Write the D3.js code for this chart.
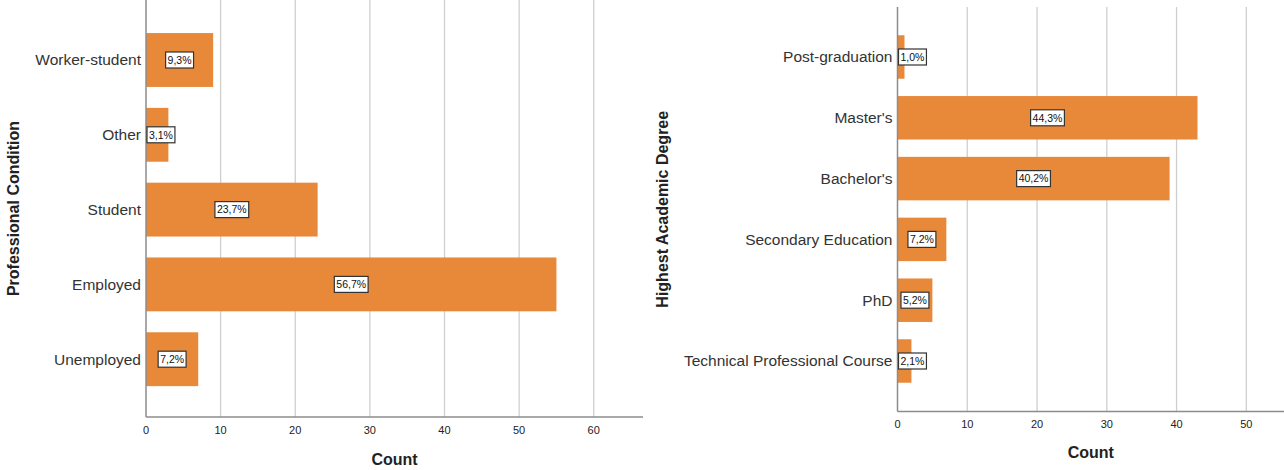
<!DOCTYPE html>
<html>
<head>
<meta charset="utf-8">
<script src="https://cdn.jsdelivr.net/npm/d3@7"></script>
<style>
  body { margin: 0; background: #fff; }
  svg { display: block; }
</style>
</head>
<body>
<div id="chart"></div>
<script>
// left chart data
const conditionCategories = ["Worker-student", "Other", "Student", "Employed", "Unemployed"];
const conditionCounts = [9, 3, 23, 55, 7];
// right chart data
const degreeCategories = ["Post-graduation", "Master's", "Bachelor's", "Secondary Education", "PhD", "Technical Professional Course"];
const degreeCounts = [1, 43, 39, 7, 5, 2];
const countTicks = [0, 10, 20, 30, 40, 50, 60];

const W = 1284, H = 470;
const barColor = "#e8893a";
const font = "'Liberation Sans', Arial, sans-serif";

const svg = d3.select("#chart").append("svg")
  .attr("width", W).attr("height", H);

const fmtPct = v => d3.format(".1f")(v).replace(".", ",") + "%";

function drawChart(cfg) {
  const { cats, counts, x0, x1, top, bottom, bandTop, bandBottom, pad, xMax, title, titleX, tickY, countY } = cfg;
  const total = d3.sum(counts);

  const x = d3.scaleLinear().domain([0, xMax]).range([x0, x1]);
  const y = d3.scaleBand().domain(cats).range([bandTop, bandBottom])
    .paddingInner(pad).paddingOuter(pad / 2);

  const g = svg.append("g");
  const ticks = countTicks.filter(t => t <= xMax);

  // gridlines
  g.selectAll("line.grid")
    .data(ticks.filter(t => t > 0))
    .join("line")
    .attr("x1", d => x(d)).attr("x2", d => x(d))
    .attr("y1", top).attr("y2", bottom)
    .attr("stroke", "#cfcfcf").attr("stroke-width", 1.3);

  // bars
  g.selectAll("rect.bar")
    .data(cats)
    .join("rect")
    .attr("x", x(0))
    .attr("y", d => y(d))
    .attr("width", (d, i) => x(counts[i]) - x(0))
    .attr("height", y.bandwidth())
    .attr("fill", barColor);

  // axes lines
  g.append("line")
    .attr("x1", x0).attr("x2", x0).attr("y1", top).attr("y2", bottom)
    .attr("stroke", "#8c8c8c").attr("stroke-width", 1.5);
  g.append("line")
    .attr("x1", x0).attr("x2", x1).attr("y1", bottom).attr("y2", bottom)
    .attr("stroke", "#8c8c8c").attr("stroke-width", 1.5);

  // tick labels
  g.selectAll("text.tick")
    .data(ticks)
    .join("text")
    .attr("x", d => x(d))
    .attr("y", tickY)
    .attr("dy", "0.35em")
    .attr("text-anchor", "middle")
    .style("font-family", font)
    .style("font-size", "11px")
    .style("fill", "#222")
    .text(d => d);

  // category labels
  g.selectAll("text.cat")
    .data(cats)
    .join("text")
    .attr("x", x0 - 5)
    .attr("y", d => y(d) + y.bandwidth() / 2)
    .attr("dy", "0.35em")
    .attr("text-anchor", "end")
    .style("font-family", font)
    .style("font-size", "15.5px")
    .style("fill", "#333")
    .text(d => d);

  // value labels in boxes
  cats.forEach((c, i) => {
    const label = fmtPct(counts[i] / total * 100);
    const cy = y(c) + y.bandwidth() / 2;
    const t = g.append("text")
      .attr("y", cy)
      .attr("dy", "0.36em")
      .attr("text-anchor", "middle")
      .style("font-family", font)
      .style("font-size", "10.5px")
      .style("fill", "#111")
      .text(label);
    const tw = t.node().getComputedTextLength();
    const bw = tw + 4, bh = 16;
    let cx = (x(0) + x(counts[i])) / 2;
    if (cx - bw / 2 < x0 + 1) cx = x0 + 1 + bw / 2;
    t.attr("x", cx);
    g.insert("rect", () => t.node())
      .attr("x", cx - bw / 2).attr("y", cy - bh / 2)
      .attr("width", bw).attr("height", bh)
      .attr("fill", "#fff").attr("stroke", "#333").attr("stroke-width", 1.2);
  });

  // axis titles
  g.append("text")
    .attr("x", (x0 + x1) / 2)
    .attr("y", countY)
    .attr("dy", "0.35em")
    .attr("text-anchor", "middle")
    .style("font-family", font)
    .style("font-size", "16px")
    .style("font-weight", "bold")
    .style("fill", "#222")
    .text("Count");

  g.append("text")
    .attr("transform", `translate(${titleX},${(top + bottom) / 2}) rotate(-90)`)
    .attr("dy", "0.35em")
    .attr("text-anchor", "middle")
    .style("font-family", font)
    .style("font-size", "16px")
    .style("font-weight", "bold")
    .style("fill", "#222")
    .text(title);
}

drawChart({
  cats: conditionCategories, counts: conditionCounts,
  x0: 146, x1: 643, top: 0, bottom: 417,
  bandTop: 22.6, bandBottom: 396.6, pad: 0.28, xMax: 66.6,
  title: "Professional Condition", titleX: 13, tickY: 430, countY: 459
});

drawChart({
  cats: degreeCategories, counts: degreeCounts,
  x0: 897.5, x1: 1284, top: 7, bottom: 411.5,
  bandTop: 26.6, bandBottom: 391.4, pad: 0.285, xMax: 55.4,
  title: "Highest Academic Degree", titleX: 662, tickY: 424, countY: 452
});
</script>
</body>
</html>
